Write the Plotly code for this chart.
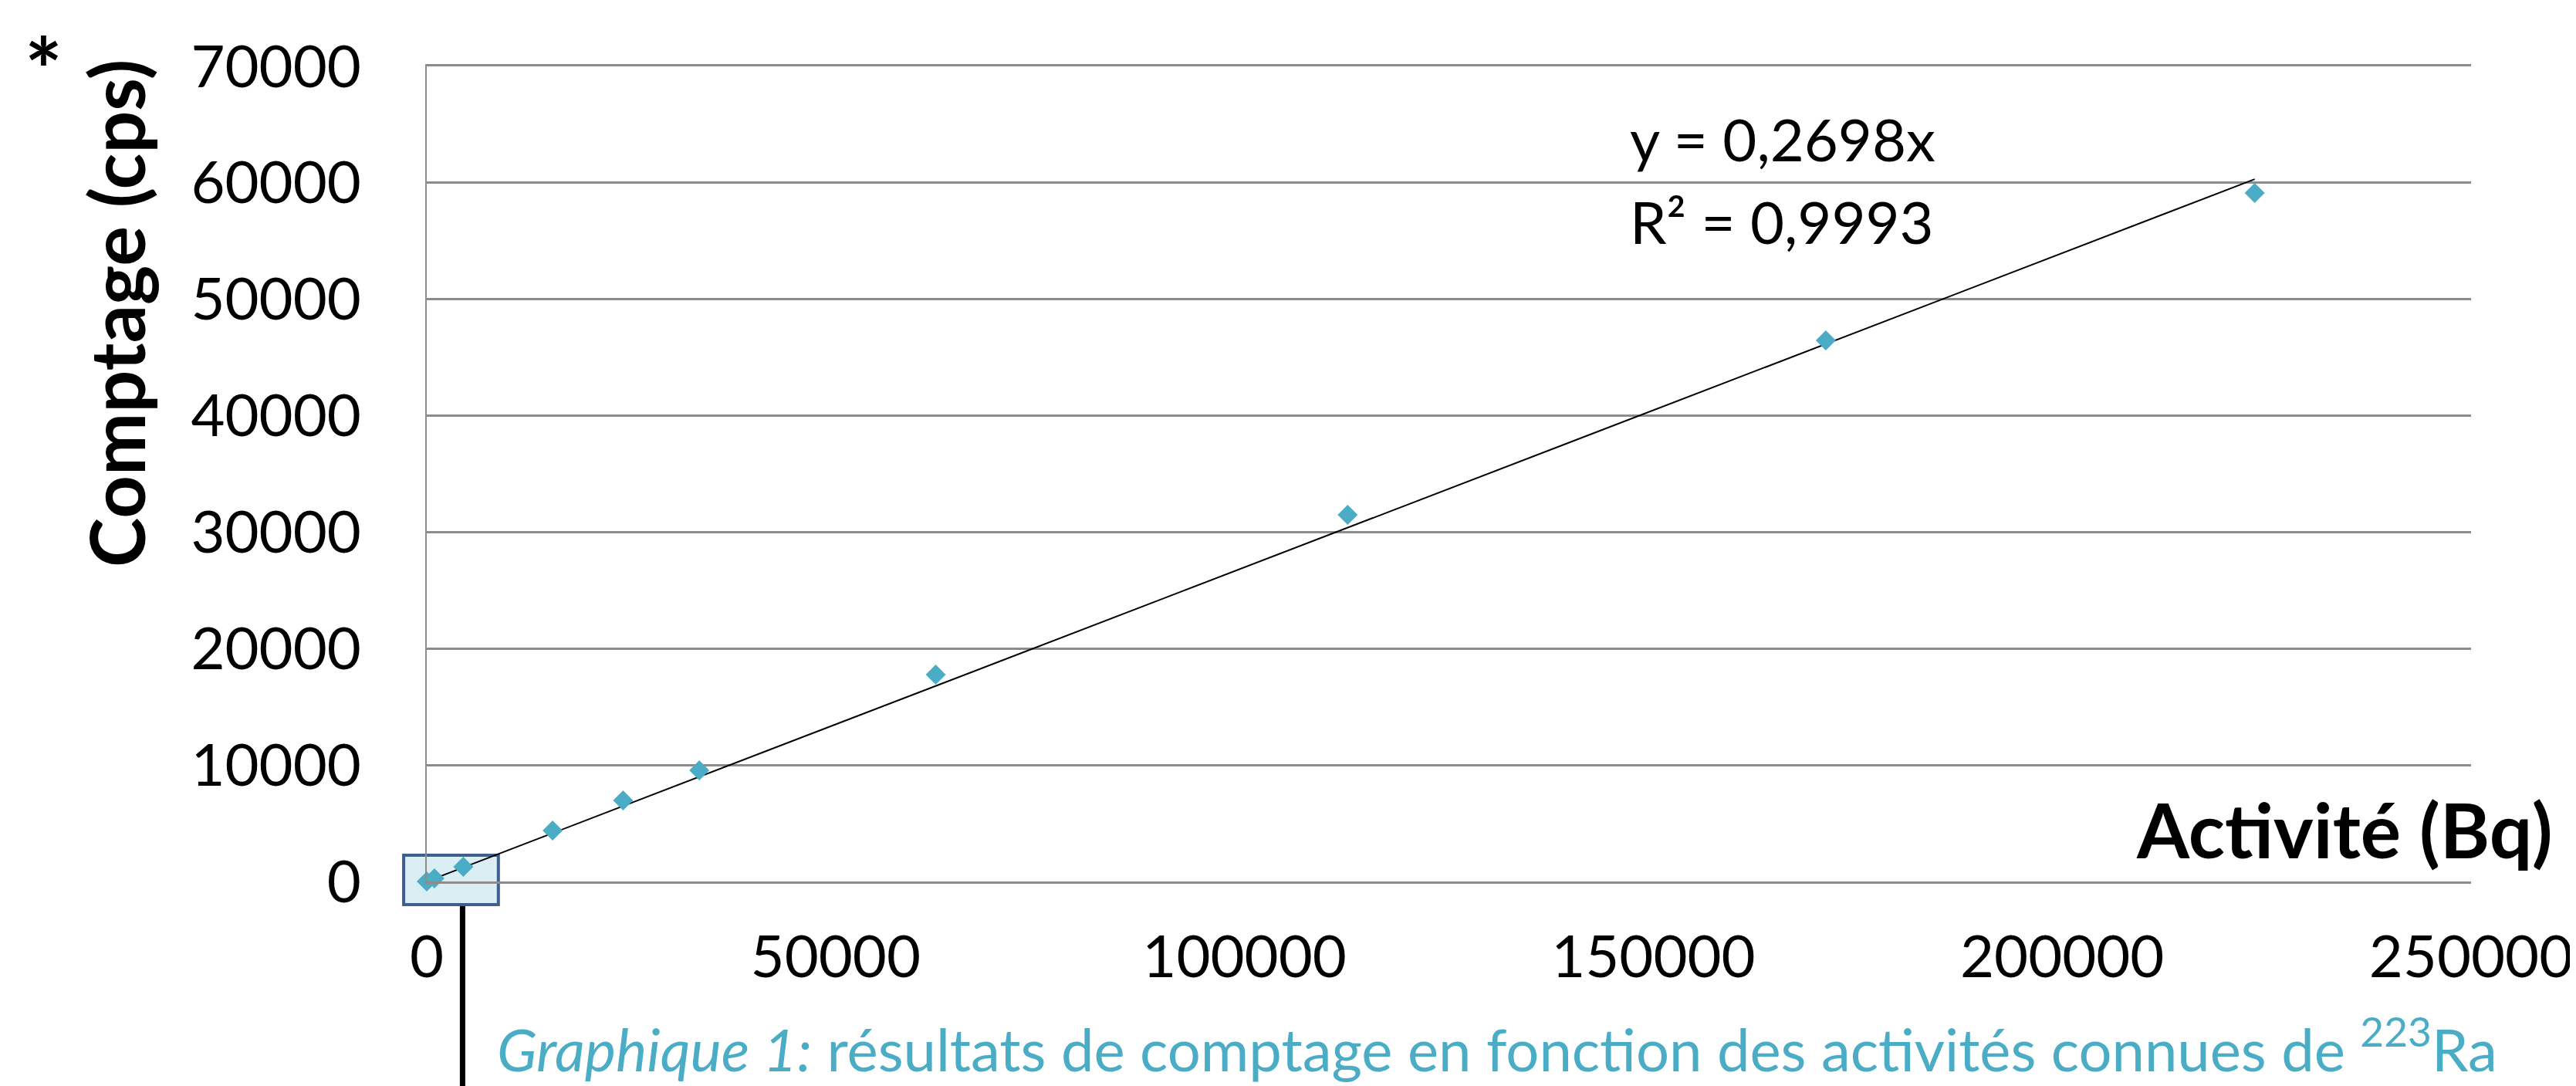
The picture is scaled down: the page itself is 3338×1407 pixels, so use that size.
import plotly.graph_objects as go

# ---- data ----
activite = [0, 940, 4470, 15390, 24010, 33330, 62240, 112620, 171090, 223540]
comptage = [0, 265, 1260, 4380, 6960, 9545, 17765, 31490, 46470, 59130]
pente = 0.2698
r2_text = "R² = 0,9993"
eq_text = "y = 0,2698x"
x_ticks = [0, 50000, 100000, 150000, 200000, 250000]
y_ticks = [0, 10000, 20000, 30000, 40000, 50000, 60000, 70000]
x_title = "Activité (Bq)"
y_title = "Comptage (cps)"
caption = "<i>Graphique 1:</i> résultats de comptage en fonction des activités connues de <sup>223</sup>Ra"

W, H = 3338, 1407
L, R, T, B = 545, 138, 78, 273
PW, PH = W - L - R, H - T - B

def px(xp):
    return (xp - L) / PW

def py(yp):
    return (H - B - yp) / PH

FONT = "Lato"
TEAL = "#4BACC6"
GRID = "#8C8C8C"

fig = go.Figure()

# trend line
trend_x = [0, max(activite)]
trend_y = [pente * v for v in trend_x]
fig.add_trace(go.Scatter(x=trend_x, y=trend_y, mode="lines",
                         line=dict(color="black", width=2), hoverinfo="skip",
                         showlegend=False, cliponaxis=False))
# data points
fig.add_trace(go.Scatter(x=activite, y=comptage, mode="markers",
                         marker=dict(symbol="diamond", size=20, color=TEAL, line=dict(width=0)),
                         showlegend=False, cliponaxis=False))

fig.update_layout(
    width=W, height=H,
    margin=dict(l=L, r=R, t=T, b=B, pad=0),
    paper_bgcolor="white", plot_bgcolor="rgba(0,0,0,0)",
    font=dict(family=FONT, size=76, color="black"),
    xaxis=dict(range=[0, 250000], tickvals=x_ticks, tickformat="d",
               showgrid=False, zeroline=False,
               showline=True, mirror=True, linecolor=GRID, linewidth=2.5,
               ticks="", ticklabelstandoff=30,
               tickfont=dict(family=FONT, size=76, color="black")),
    yaxis=dict(range=[0, 70000], tickvals=y_ticks, tickformat="d",
               showgrid=True, gridcolor=GRID, gridwidth=2.5,
               zeroline=False, showline=True, linecolor=GRID, linewidth=2,
               ticks="", ticklabelstandoff=68,
               tickfont=dict(family=FONT, size=76, color="black")),
)

# zoom box near origin and its pointer line
fig.add_shape(type="rect", xref="paper", yref="paper",
              x0=px(515), x1=px(638), y0=py(1164), y1=py(1100),
              fillcolor="#DBEEF4", line=dict(color="#3C5F8F", width=4), layer="below")
fig.add_shape(type="line", xref="paper", yref="paper",
              x0=px(591.5), x1=px(591.5), y0=py(1166), y1=py(1410),
              line=dict(color="black", width=7), layer="above")

ann = []
ann.append(dict(text=f"<b>{x_title}</b>", x=px(3308), y=py(1066), xref="paper", yref="paper",
                xanchor="right", yanchor="middle", showarrow=False,
                font=dict(family=FONT, size=98, color="black")))
ann.append(dict(text=f"<b>{y_title}</b>", x=px(142), y=py(398), xref="paper", yref="paper",
                xanchor="center", yanchor="middle", textangle=-90, showarrow=False,
                font=dict(family=FONT, size=97, color="black")))
ann.append(dict(text="<b>*</b>", x=px(47), y=py(80), xref="paper", yref="paper",
                xanchor="center", yanchor="middle", showarrow=False,
                font=dict(family=FONT, size=115, color="black")))
ann.append(dict(text=eq_text, x=px(2106), y=py(172), xref="paper", yref="paper",
                xanchor="left", yanchor="middle", showarrow=False,
                font=dict(family=FONT, size=76, color="black")))
ann.append(dict(text=r2_text, x=px(2106), y=py(278), xref="paper", yref="paper",
                xanchor="left", yanchor="middle", showarrow=False,
                font=dict(family=FONT, size=76, color="black")))
ann.append(dict(text=caption, x=px(634), y=py(1345), xref="paper", yref="paper",
                xanchor="left", yanchor="middle", showarrow=False,
                font=dict(family=FONT, size=76, color=TEAL)))
fig.update_layout(annotations=ann)

fig.write_html("out.html")
